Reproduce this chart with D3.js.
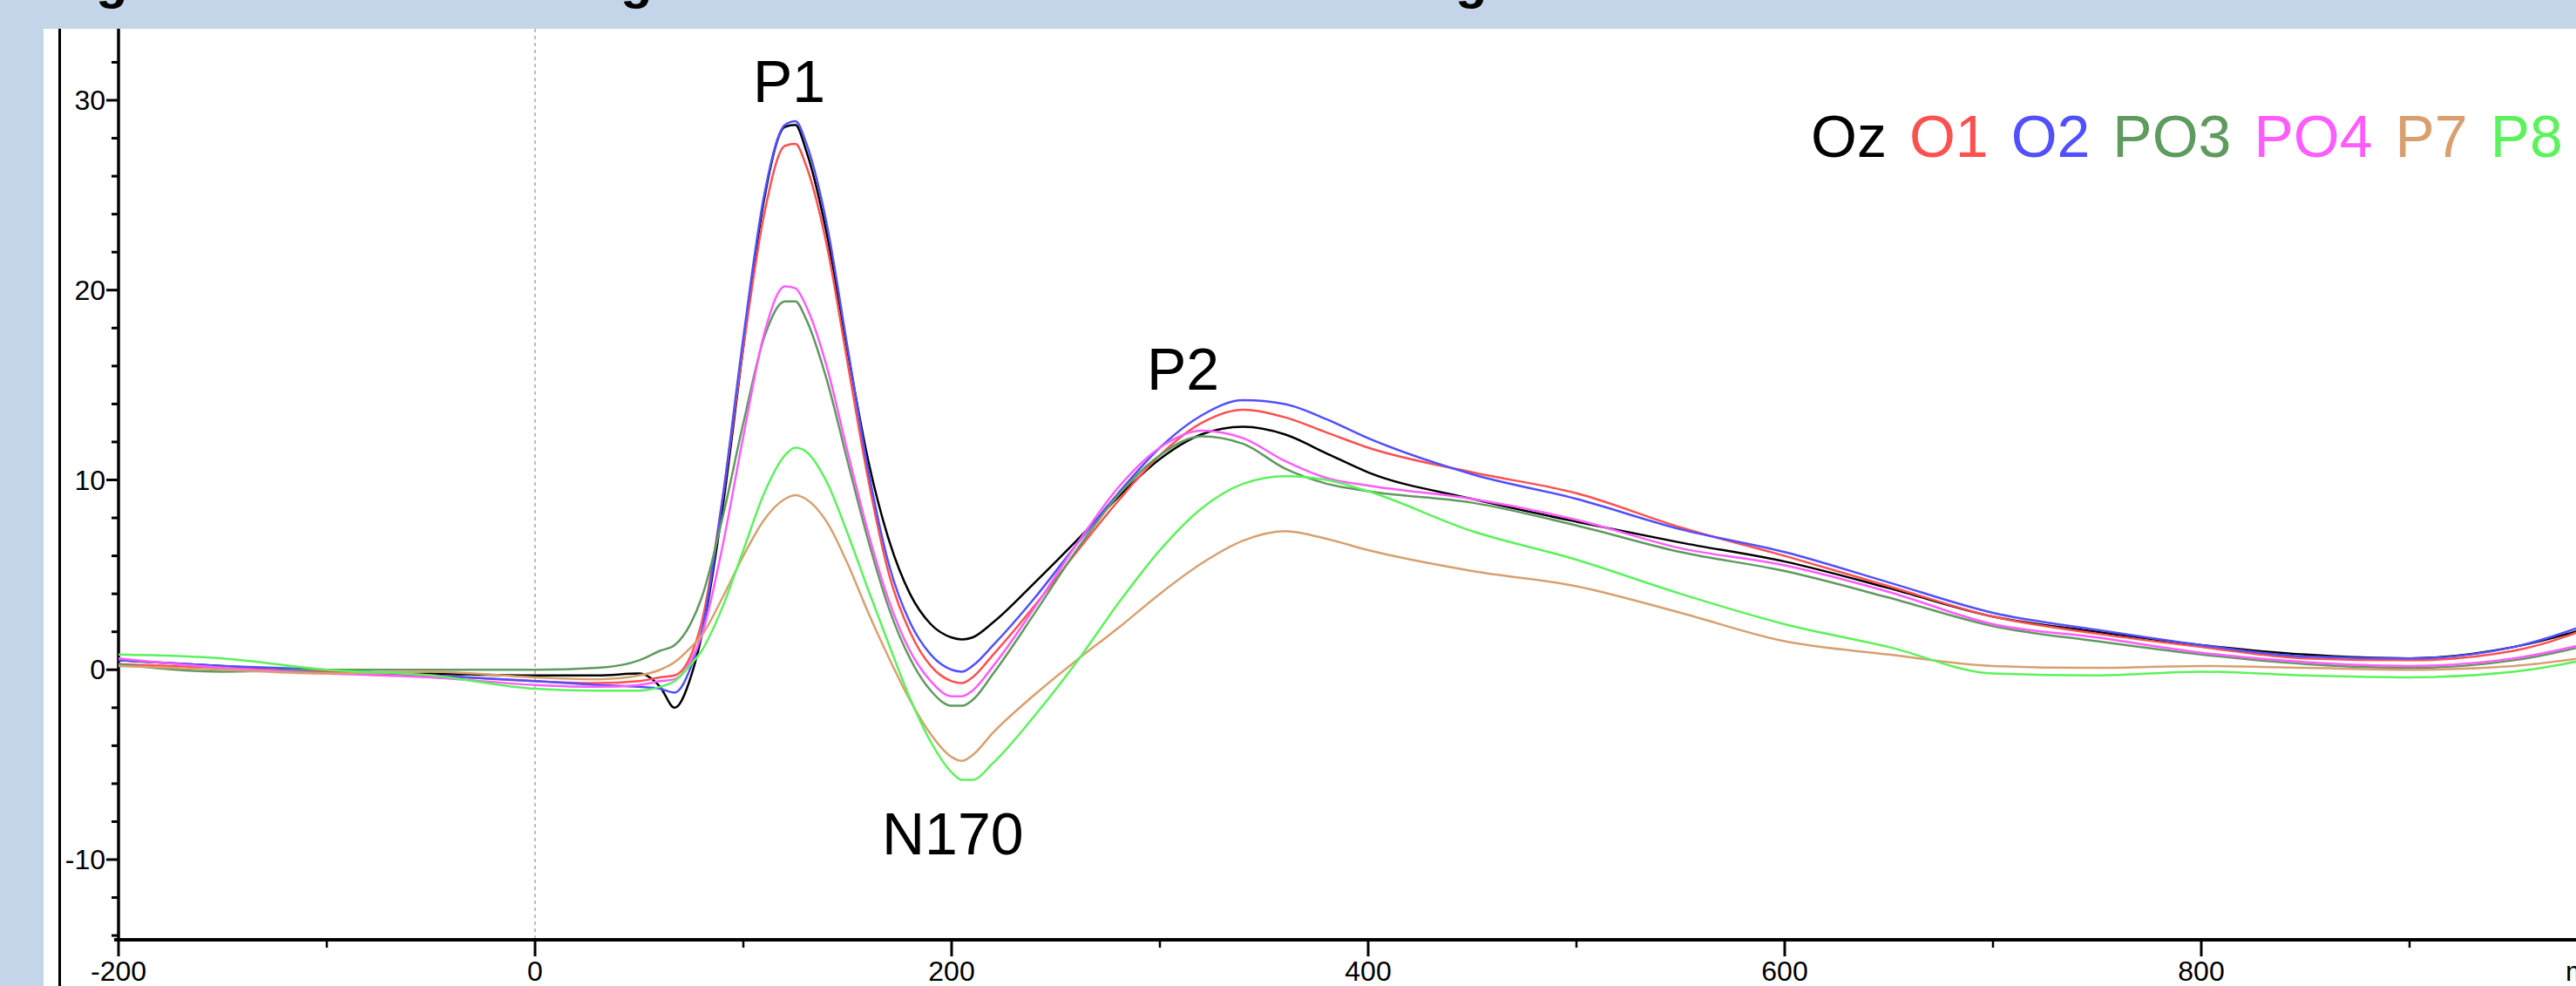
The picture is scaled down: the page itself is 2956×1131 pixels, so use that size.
<!DOCTYPE html>
<html>
<head>
<meta charset="utf-8">
<script src="https://cdn.jsdelivr.net/npm/d3@7"></script>
<style>
  html, body { margin: 0; padding: 0; background: #c4d5ea; overflow: hidden; }
  svg { display: block; font-family: "Liberation Sans", Arial, sans-serif; }
</style>
</head>
<body>
<div id="chart"></div>
<script>
// time points (ms)
const times = [-200,-150,-100,-50,0,30,50,60,67,75,80,90,100,110,120,125,130,140,150,160,170,180,190,200,205,210,220,240,260,280,300,320,340,360,380,400,450,500,550,600,650,700,750,800,850,900,950,1000];

// amplitudes (µV) per channel
const Oz  = [0.5,0.2,-0.1,-0.2,-0.3, -0.3,-0.2,-0.9,-2.0,-0.3, 1.8,8.5,17,24.8,28.6, 28.7,27.4,23,16.8,11, 6.8,4,2.4,1.7,1.6, 1.7,2.5,4.6,6.8,9.1, 11.1,12.4,12.8,12.4,11.4, 10.4,9.0,7.8,6.7,5.7, 4.3,2.8,2.0,1.3,0.8, 0.6,1.2,2.7];
const O1  = [0.3,0.1,-0.1,-0.3,-0.6, -0.7,-0.6,-0.4,-0.3,0.8, 2.5,9,17,24,27.6, 27.7,26.6,22.4,16.2,10, 5,2,0.2,-0.6,-0.7, -0.4,0.8,3.4,6.2,8.9, 11.3,13,13.7,13.3,12.5, 11.7,10.4,9.3,7.5,6.0, 4.4,2.8,1.9,1.2,0.6, 0.5,1.0,2.8];
const O2  = [0.5,0.2,0,-0.3,-0.6, -0.8,-0.9,-1.0,-1.2,0.2, 2,9,17.5,25,28.7, 28.9,27.8,23.5,17,10.5, 5.5,2.5,0.8,0,-0.1, 0.2,1.3,3.8,6.6,9.3, 11.7,13.4,14.2,14,13.2, 12.2,10.3,9.0,7.4,6.2, 4.6,3.0,2.1,1.3,0.7, 0.6,1.2,3.0];
const PO3 = [0.3,-0.1,0,0,0, 0.1,0.5,1.0,1.3,2.5, 3.8,8,13,17.5,19.4, 19.4,18.5,15.3,11,6.8, 3.2,0.6,-1.1,-1.9,-1.9, -1.6,-0.2,3.0,6.3,9.2, 11.3,12.3,11.9,10.6,9.8, 9.4,8.8,7.6,6.2,5.2, 3.8,2.3,1.5,0.8,0.3, 0.1,0.5,1.7];
const PO4 = [0.6,0.1,-0.2,-0.4,-0.8, -0.9,-0.8,-0.6,-0.5,0.5, 1.8,6.5,12.3,17.7,20.2, 20.1,19.2,16,11.5,7.2, 3.6,1.0,-0.6,-1.4,-1.4, -1.1,0.2,3.3,6.6,9.6, 11.7,12.6,12.2,11,10.1, 9.7,9.0,7.9,6.4,5.5, 4.1,2.4,1.7,0.9,0.4, 0.2,0.6,1.8];
const P7  = [0.2,0.0,-0.2,-0.1,-0.4, -0.5,-0.3,0.0,0.4,1.2, 1.8,3.8,6.0,7.9,9.0, 9.2,9.0,7.8,5.6,3.0, 0.6,-1.6,-3.4,-4.6,-4.8, -4.5,-3.3,-1.3,0.5,2.2, 4.0,5.6,6.8,7.3,6.9, 6.3,5.2,4.4,3.0,1.5, 0.8,0.2,0.1,0.2,0.1, 0.0,0.2,0.9];
const P8  = [0.8,0.6,0.0,-0.3,-1.0, -1.1,-1.1,-0.9,-0.6,0.3, 1.0,3.3,6.3,9.3,11.3, 11.7,11.5,9.9,7.2,4.2, 1.3,-1.5,-3.8,-5.4,-5.8, -5.8,-4.9,-2.4,0.4,3.5, 6.3,8.5,9.8,10.2,10.0, 9.4,7.3,5.8,4.0,2.4, 1.2,-0.2,-0.3,-0.1,-0.3, -0.4,-0.1,0.9];

const channels = ['Oz', 'O1', 'O2', 'PO3', 'PO4', 'P7', 'P8'];
const values = [Oz, O1, O2, PO3, PO4, P7, P8];
const colors = ['#000000', '#ff5050', '#5050ff', '#5f9a5f', '#ff5cff', '#d8a070', '#5cf25c'];

const xTicks = [-200, 0, 200, 400, 600, 800];
const yTicks = [-10, 0, 10, 20, 30];
const peakLabels = ['P1', 'P2', 'N170'];

const W = 2956, H = 1131;

const svg = d3.select('#chart').append('svg')
  .attr('width', W)
  .attr('height', H);

// slide background + white panel
svg.append('rect').attr('width', W).attr('height', H).attr('fill', '#c4d5ea');
svg.append('rect').attr('x', 50).attr('y', 33).attr('width', W - 50).attr('height', H - 33).attr('fill', '#fff');

// bottom of the cut-off slide title
svg.append('g').selectAll('text')
  .data([110, 712, 1670])
  .enter().append('text')
  .attr('x', d => d)
  .attr('y', -2)
  .style('font-size', '60px')
  .style('font-weight', 'bold')
  .text('g');

// frame line
svg.append('line')
  .attr('x1', 68.5).attr('x2', 68.5).attr('y1', 33).attr('y2', H)
  .attr('stroke', '#000').attr('stroke-width', 3);

const x = d3.scaleLinear().domain([-200, 1000]).range([136, 3004]);
const y = d3.scaleLinear().domain([-10, 30]).range([986, 115]);

// stimulus onset line
svg.append('line')
  .attr('x1', x(0)).attr('x2', x(0)).attr('y1', 33).attr('y2', 1076)
  .attr('stroke', '#bdbdbd').attr('stroke-width', 2)
  .attr('stroke-dasharray', '4,4');

// y axis
const yAxis = svg.append('g').attr('transform', 'translate(136,0)');
yAxis.append('line').attr('y1', 33).attr('y2', 1080).attr('stroke', '#000').attr('stroke-width', 3.5);
yAxis.selectAll('.minor')
  .data(d3.range(-14, 34, 2))
  .enter().append('line')
  .attr('x1', d => d % 10 === 0 ? -14 : -8).attr('x2', 0)
  .attr('y1', d => y(d)).attr('y2', d => y(d))
  .attr('stroke', '#000').attr('stroke-width', 3);
yAxis.selectAll('text')
  .data(yTicks)
  .enter().append('text')
  .attr('x', -15)
  .attr('y', d => y(d))
  .attr('dy', '0.35em')
  .attr('text-anchor', 'end')
  .style('font-size', '32px')
  .text(d => d);

// x axis
const xAxis = svg.append('g').attr('transform', 'translate(0,1078)');
xAxis.append('line').attr('x1', 131).attr('x2', W).attr('stroke', '#000').attr('stroke-width', 4);
xAxis.selectAll('.tick')
  .data(d3.range(-200, 1001, 100))
  .enter().append('line')
  .attr('x1', d => x(d)).attr('x2', d => x(d))
  .attr('y1', 0).attr('y2', d => d % 200 === 0 ? 19 : 9)
  .attr('stroke', '#000').attr('stroke-width', d => d % 200 === 0 ? 3 : 2.5);
xAxis.selectAll('text')
  .data(xTicks)
  .enter().append('text')
  .attr('x', d => x(d))
  .attr('y', 47)
  .attr('text-anchor', 'middle')
  .style('font-size', '32px')
  .text(d => d);
xAxis.append('text')
  .attr('x', 2944).attr('y', 47)
  .style('font-size', '32px')
  .text('ms');

// waveforms
const line = d3.line()
  .x((d, i) => x(times[i]))
  .y(d => y(d))
  .curve(d3.curveMonotoneX);

svg.append('g').selectAll('path')
  .data(values)
  .enter().append('path')
  .attr('d', line)
  .attr('fill', 'none')
  .attr('stroke', (d, i) => colors[i])
  .attr('stroke-width', 2.5);

// component labels
const labelPos = [[864, 117], [1316, 447], [1012, 980]];
svg.append('g').selectAll('text')
  .data(peakLabels)
  .enter().append('text')
  .attr('x', (d, i) => labelPos[i][0])
  .attr('y', (d, i) => labelPos[i][1])
  .style('font-size', '68px')
  .text(d => d);

// legend
const legend = svg.append('g');
let lx = 2078;
channels.forEach((c, i) => {
  const t = legend.append('text')
    .attr('x', lx).attr('y', 180)
    .attr('fill', i === 0 ? '#000' : colors[i])
    .style('font-size', '68px')
    .text(c);
  lx += t.node().getComputedTextLength() + 26;
});
</script>
</body>
</html>
